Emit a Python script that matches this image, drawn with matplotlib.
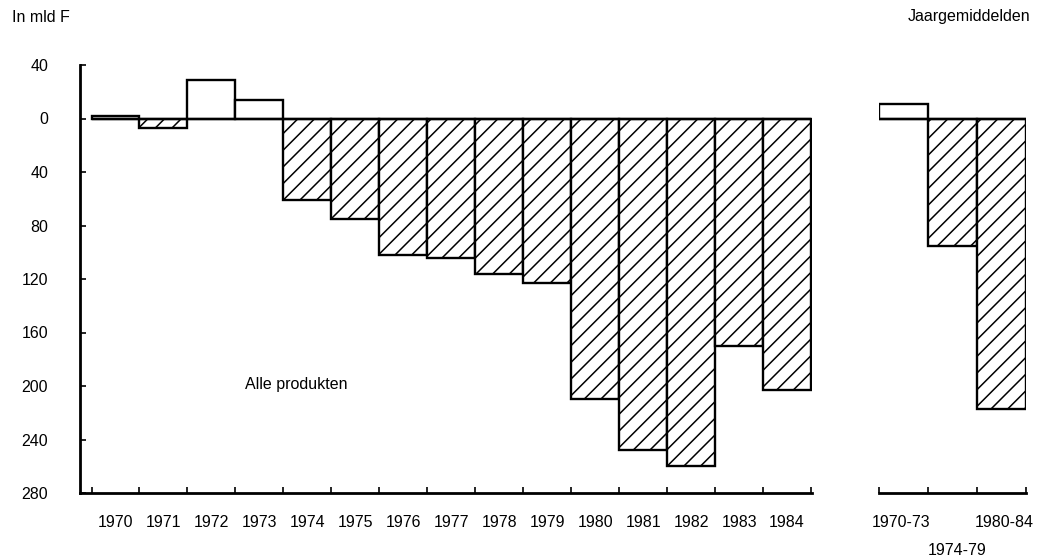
import numpy as np
import matplotlib
matplotlib.use('Agg')
import matplotlib.pyplot as plt

plt.rcParams['font.family'] = ['Liberation Sans', 'DejaVu Sans']
plt.rcParams['hatch.linewidth'] = 1.1

# yearly values (mld F), negative = deficit
years = ['1970', '1971', '1972', '1973', '1974', '1975', '1976', '1977',
         '1978', '1979', '1980', '1981', '1982', '1983', '1984']
values = [2, -7, 29, 14, -61, -75, -102, -104, -116, -123, -210, -248, -260, -170, -203]

# period averages
periods = ['1970-73', '1974-79', '1980-84']
averages = [11, -95, -217]

yticks = [40, 0, -40, -80, -120, -160, -200, -240, -280]
ytick_labels = [str(abs(v)) for v in yticks]

lw = 1.7
fs = 11.5
fig = plt.figure(figsize=(10.59, 5.6), dpi=100)
ax = fig.add_axes([80 / 1059, 67 / 560, 732 / 1059, 428 / 560])
ax2 = fig.add_axes([879 / 1059, 67 / 560, 147 / 1059, 428 / 560])


def draw_bars(a, vals):
    x = np.arange(len(vals))
    for xi, v in zip(x, vals):
        a.bar(xi, v, width=1, align='edge', color='white', edgecolor='black',
              linewidth=lw, hatch='//' if v < 0 else None, zorder=2)
    a.hlines(0, 0, len(vals), color='black', linewidth=lw, zorder=3)


draw_bars(ax, values)
draw_bars(ax2, averages)

for a in (ax, ax2):
    a.set_ylim(-280, 40)
    for s in ['top', 'right']:
        a.spines[s].set_visible(False)
    a.spines['bottom'].set_linewidth(2.0)
    a.spines['left'].set_linewidth(2.0)
    a.tick_params(axis='both', which='major', direction='in', length=4, width=1.2)
    a.tick_params(axis='x', which='minor', length=0, pad=16, labelsize=fs)

ax.set_xlim(-0.24, 15.02)
ax.set_xticks(np.arange(len(values) + 1))
ax.set_xticklabels([])
ax.set_xticks(np.arange(len(values)) + 0.5, minor=True)
ax.set_xticklabels(years, minor=True)
ax.set_yticks(yticks)
ax.set_yticklabels(ytick_labels, fontsize=fs)
ax.tick_params(axis='y', pad=23)

ax2.set_xlim(0, 3)
ax2.spines['left'].set_visible(False)
ax2.set_yticks([])
ax2.set_xticks(np.arange(len(averages) + 1))
ax2.set_xticklabels([])
ax2.patch.set_alpha(0)
label_x = [0.45, 1.6, 2.55]
label_y = [-0.07, -0.135, -0.07]
for lx, ly, p in zip(label_x, label_y, periods):
    ax2.text(lx / 3, ly, p, transform=ax2.transAxes, ha='center', va='center', fontsize=fs)

ax.text(4.26, -199, 'Alle produkten', ha='center', va='center', fontsize=fs)
fig.text(12 / 1059, 1 - 17 / 560, 'In mld F', ha='left', va='center', fontsize=fs)
fig.text(1030 / 1059, 1 - 17 / 560, 'Jaargemiddelden', ha='right', va='center', fontsize=fs)

fig.savefig('out.png', dpi=100)
